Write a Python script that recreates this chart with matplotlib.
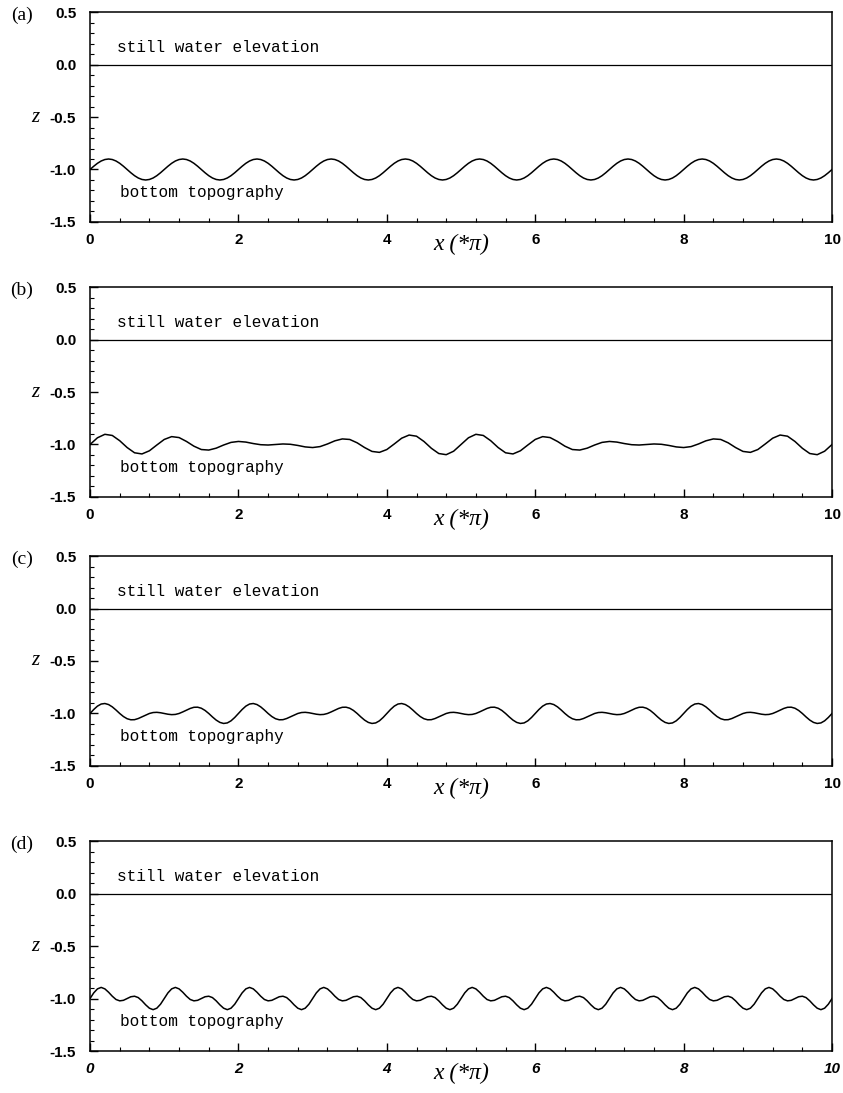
import numpy as np
import matplotlib.pyplot as plt
from matplotlib.ticker import MultipleLocator

# eixo x em unidades de pi
x_a = np.linspace(0, 10, 201)
x_b = np.linspace(0, 10, 101)
x_c = np.linspace(0, 10, 201)
x_d = np.linspace(0, 10, 201)

# nivel de agua parada
nivel_agua = 0.0

# (a) fundo com uma so ondulacao (passo 0.05)
z_a = [
    -1.000, -0.969, -0.941, -0.919, -0.905, -0.900, -0.905, -0.919, -0.941, -0.969,
    -1.000, -1.031, -1.059, -1.081, -1.095, -1.100, -1.095, -1.081, -1.059, -1.031,
    -1.000, -0.969, -0.941, -0.919, -0.905, -0.900, -0.905, -0.919, -0.941, -0.969,
    -1.000, -1.031, -1.059, -1.081, -1.095, -1.100, -1.095, -1.081, -1.059, -1.031,
    -1.000, -0.969, -0.941, -0.919, -0.905, -0.900, -0.905, -0.919, -0.941, -0.969,
    -1.000, -1.031, -1.059, -1.081, -1.095, -1.100, -1.095, -1.081, -1.059, -1.031,
    -1.000, -0.969, -0.941, -0.919, -0.905, -0.900, -0.905, -0.919, -0.941, -0.969,
    -1.000, -1.031, -1.059, -1.081, -1.095, -1.100, -1.095, -1.081, -1.059, -1.031,
    -1.000, -0.969, -0.941, -0.919, -0.905, -0.900, -0.905, -0.919, -0.941, -0.969,
    -1.000, -1.031, -1.059, -1.081, -1.095, -1.100, -1.095, -1.081, -1.059, -1.031,
    -1.000, -0.969, -0.941, -0.919, -0.905, -0.900, -0.905, -0.919, -0.941, -0.969,
    -1.000, -1.031, -1.059, -1.081, -1.095, -1.100, -1.095, -1.081, -1.059, -1.031,
    -1.000, -0.969, -0.941, -0.919, -0.905, -0.900, -0.905, -0.919, -0.941, -0.969,
    -1.000, -1.031, -1.059, -1.081, -1.095, -1.100, -1.095, -1.081, -1.059, -1.031,
    -1.000, -0.969, -0.941, -0.919, -0.905, -0.900, -0.905, -0.919, -0.941, -0.969,
    -1.000, -1.031, -1.059, -1.081, -1.095, -1.100, -1.095, -1.081, -1.059, -1.031,
    -1.000, -0.969, -0.941, -0.919, -0.905, -0.900, -0.905, -0.919, -0.941, -0.969,
    -1.000, -1.031, -1.059, -1.081, -1.095, -1.100, -1.095, -1.081, -1.059, -1.031,
    -1.000, -0.969, -0.941, -0.919, -0.905, -0.900, -0.905, -0.919, -0.941, -0.969,
    -1.000, -1.031, -1.059, -1.081, -1.095, -1.100, -1.095, -1.081, -1.059, -1.031,
    -1.000,
]

# (b) batimento (passo 0.1)
z_b = [
    -1.000, -0.936, -0.903, -0.914, -0.964, -1.029, -1.079, -1.090, -1.060, -1.005,
    -0.952, -0.925, -0.934, -0.971, -1.016, -1.048, -1.053, -1.035, -1.005, -0.980,
    -0.971, -0.977, -0.991, -1.002, -1.005, -1.000, -0.995, -0.998, -1.009, -1.023,
    -1.029, -1.020, -0.995, -0.965, -0.947, -0.952, -0.984, -1.029, -1.066, -1.075,
    -1.048, -0.995, -0.940, -0.910, -0.921, -0.971, -1.036, -1.086, -1.097, -1.064,
    -1.000, -0.936, -0.903, -0.914, -0.964, -1.029, -1.079, -1.090, -1.060, -1.005,
    -0.952, -0.925, -0.934, -0.971, -1.016, -1.048, -1.053, -1.035, -1.005, -0.980,
    -0.971, -0.977, -0.991, -1.002, -1.005, -1.000, -0.995, -0.998, -1.009, -1.023,
    -1.029, -1.020, -0.995, -0.965, -0.947, -0.952, -0.984, -1.029, -1.066, -1.075,
    -1.048, -0.995, -0.940, -0.910, -0.921, -0.971, -1.036, -1.086, -1.097, -1.064,
    -1.000,
]

# (c) duas componentes (passo 0.05)
z_c = [
    -1.000, -0.962, -0.930, -0.910, -0.905, -0.915, -0.937, -0.967, -1.000, -1.029,
    -1.050, -1.060, -1.059, -1.048, -1.032, -1.015, -1.000, -0.991, -0.989, -0.993,
    -1.000, -1.007, -1.011, -1.009, -1.000, -0.985, -0.968, -0.952, -0.941, -0.940,
    -0.950, -0.971, -1.000, -1.033, -1.063, -1.085, -1.095, -1.090, -1.070, -1.038,
    -1.000, -0.962, -0.930, -0.910, -0.905, -0.915, -0.937, -0.967, -1.000, -1.029,
    -1.050, -1.060, -1.059, -1.048, -1.032, -1.015, -1.000, -0.991, -0.989, -0.993,
    -1.000, -1.007, -1.011, -1.009, -1.000, -0.985, -0.968, -0.952, -0.941, -0.940,
    -0.950, -0.971, -1.000, -1.033, -1.063, -1.085, -1.095, -1.090, -1.070, -1.038,
    -1.000, -0.962, -0.930, -0.910, -0.905, -0.915, -0.937, -0.967, -1.000, -1.029,
    -1.050, -1.060, -1.059, -1.048, -1.032, -1.015, -1.000, -0.991, -0.989, -0.993,
    -1.000, -1.007, -1.011, -1.009, -1.000, -0.985, -0.968, -0.952, -0.941, -0.940,
    -0.950, -0.971, -1.000, -1.033, -1.063, -1.085, -1.095, -1.090, -1.070, -1.038,
    -1.000, -0.962, -0.930, -0.910, -0.905, -0.915, -0.937, -0.967, -1.000, -1.029,
    -1.050, -1.060, -1.059, -1.048, -1.032, -1.015, -1.000, -0.991, -0.989, -0.993,
    -1.000, -1.007, -1.011, -1.009, -1.000, -0.985, -0.968, -0.952, -0.941, -0.940,
    -0.950, -0.971, -1.000, -1.033, -1.063, -1.085, -1.095, -1.090, -1.070, -1.038,
    -1.000, -0.962, -0.930, -0.910, -0.905, -0.915, -0.937, -0.967, -1.000, -1.029,
    -1.050, -1.060, -1.059, -1.048, -1.032, -1.015, -1.000, -0.991, -0.989, -0.993,
    -1.000, -1.007, -1.011, -1.009, -1.000, -0.985, -0.968, -0.952, -0.941, -0.940,
    -0.950, -0.971, -1.000, -1.033, -1.063, -1.085, -1.095, -1.090, -1.070, -1.038,
    -1.000,
]

# (d) componente e harmonico (passo 0.05)
z_d = [
    -1.000, -0.946, -0.908, -0.894, -0.908, -0.940, -0.978, -1.009, -1.022, -1.017,
    -1.000, -0.983, -0.978, -0.991, -1.022, -1.060, -1.092, -1.106, -1.092, -1.054,
    -1.000, -0.946, -0.908, -0.894, -0.908, -0.940, -0.978, -1.009, -1.022, -1.017,
    -1.000, -0.983, -0.978, -0.991, -1.022, -1.060, -1.092, -1.106, -1.092, -1.054,
    -1.000, -0.946, -0.908, -0.894, -0.908, -0.940, -0.978, -1.009, -1.022, -1.017,
    -1.000, -0.983, -0.978, -0.991, -1.022, -1.060, -1.092, -1.106, -1.092, -1.054,
    -1.000, -0.946, -0.908, -0.894, -0.908, -0.940, -0.978, -1.009, -1.022, -1.017,
    -1.000, -0.983, -0.978, -0.991, -1.022, -1.060, -1.092, -1.106, -1.092, -1.054,
    -1.000, -0.946, -0.908, -0.894, -0.908, -0.940, -0.978, -1.009, -1.022, -1.017,
    -1.000, -0.983, -0.978, -0.991, -1.022, -1.060, -1.092, -1.106, -1.092, -1.054,
    -1.000, -0.946, -0.908, -0.894, -0.908, -0.940, -0.978, -1.009, -1.022, -1.017,
    -1.000, -0.983, -0.978, -0.991, -1.022, -1.060, -1.092, -1.106, -1.092, -1.054,
    -1.000, -0.946, -0.908, -0.894, -0.908, -0.940, -0.978, -1.009, -1.022, -1.017,
    -1.000, -0.983, -0.978, -0.991, -1.022, -1.060, -1.092, -1.106, -1.092, -1.054,
    -1.000, -0.946, -0.908, -0.894, -0.908, -0.940, -0.978, -1.009, -1.022, -1.017,
    -1.000, -0.983, -0.978, -0.991, -1.022, -1.060, -1.092, -1.106, -1.092, -1.054,
    -1.000, -0.946, -0.908, -0.894, -0.908, -0.940, -0.978, -1.009, -1.022, -1.017,
    -1.000, -0.983, -0.978, -0.991, -1.022, -1.060, -1.092, -1.106, -1.092, -1.054,
    -1.000, -0.946, -0.908, -0.894, -0.908, -0.940, -0.978, -1.009, -1.022, -1.017,
    -1.000, -0.983, -0.978, -0.991, -1.022, -1.060, -1.092, -1.106, -1.092, -1.054,
    -1.000,
]

letras = ['(a)', '(b)', '(c)', '(d)']
xticks = [0, 2, 4, 6, 8, 10]
yticks = [-1.5, -1.0, -0.5, 0.0, 0.5]
ytick_labels = ['-1.5', '-1.0', '-0.5', '0.0', '0.5']

plt.rcParams['font.family'] = 'Liberation Sans'
plt.rcParams['font.weight'] = 'bold'
plt.rcParams['font.size'] = 11

fig = plt.figure(figsize=(8.43, 10.93), dpi=100)
bases = [0.7969, 0.5453, 0.2992, 0.0384]


def painel(base, x, z, letra, italico=False):
    ax = fig.add_axes([0.1068, base, 0.8802, 0.1921])
    ax.axhline(nivel_agua, color='black', lw=0.9)
    ax.plot(x, z, color='black', lw=1.1)
    ax.set_xlim(0, 10)
    ax.set_ylim(-1.5, 0.5)
    ax.set_xticks(xticks)
    ax.set_yticks(yticks)
    ax.set_yticklabels(ytick_labels)
    ax.xaxis.set_minor_locator(MultipleLocator(0.4))
    ax.yaxis.set_minor_locator(MultipleLocator(0.1))
    ax.tick_params(which='both', direction='in', top=False, right=False)
    ax.tick_params(which='major', length=6, width=1.0)
    ax.tick_params(which='minor', length=3, width=0.8)
    ax.tick_params(axis='y', pad=10)
    ax.tick_params(axis='x', pad=8)
    if italico:
        for lab in ax.get_xticklabels():
            lab.set_style('italic')
    for s in ax.spines.values():
        s.set_linewidth(1.1)

    ax.text(0.37, 0.16, 'still water elevation', family='Liberation Mono',
            fontweight='normal', fontsize=11.6, va='center')
    ax.text(0.40, -1.22, 'bottom topography', family='Liberation Mono',
            fontweight='normal', fontsize=11.6, va='center')
    ax.text(-0.092, 0.986, letra, transform=ax.transAxes, family='Liberation Serif',
            fontweight='normal', fontsize=14, ha='center', va='center')
    ax.text(-0.074, 0.5, 'z', transform=ax.transAxes, family='Liberation Serif',
            fontweight='normal', style='italic', fontsize=15, ha='center', va='center')
    ax.text(0.5, -0.105, 'x (*π)', transform=ax.transAxes, family='Liberation Serif',
            fontweight='normal', style='italic', fontsize=17, ha='center', va='center')
    return ax


painel(bases[0], x_a, z_a, letras[0])
painel(bases[1], x_b, z_b, letras[1])
painel(bases[2], x_c, z_c, letras[2])
painel(bases[3], x_d, z_d, letras[3], italico=True)

plt.savefig('out.png', dpi=100)
